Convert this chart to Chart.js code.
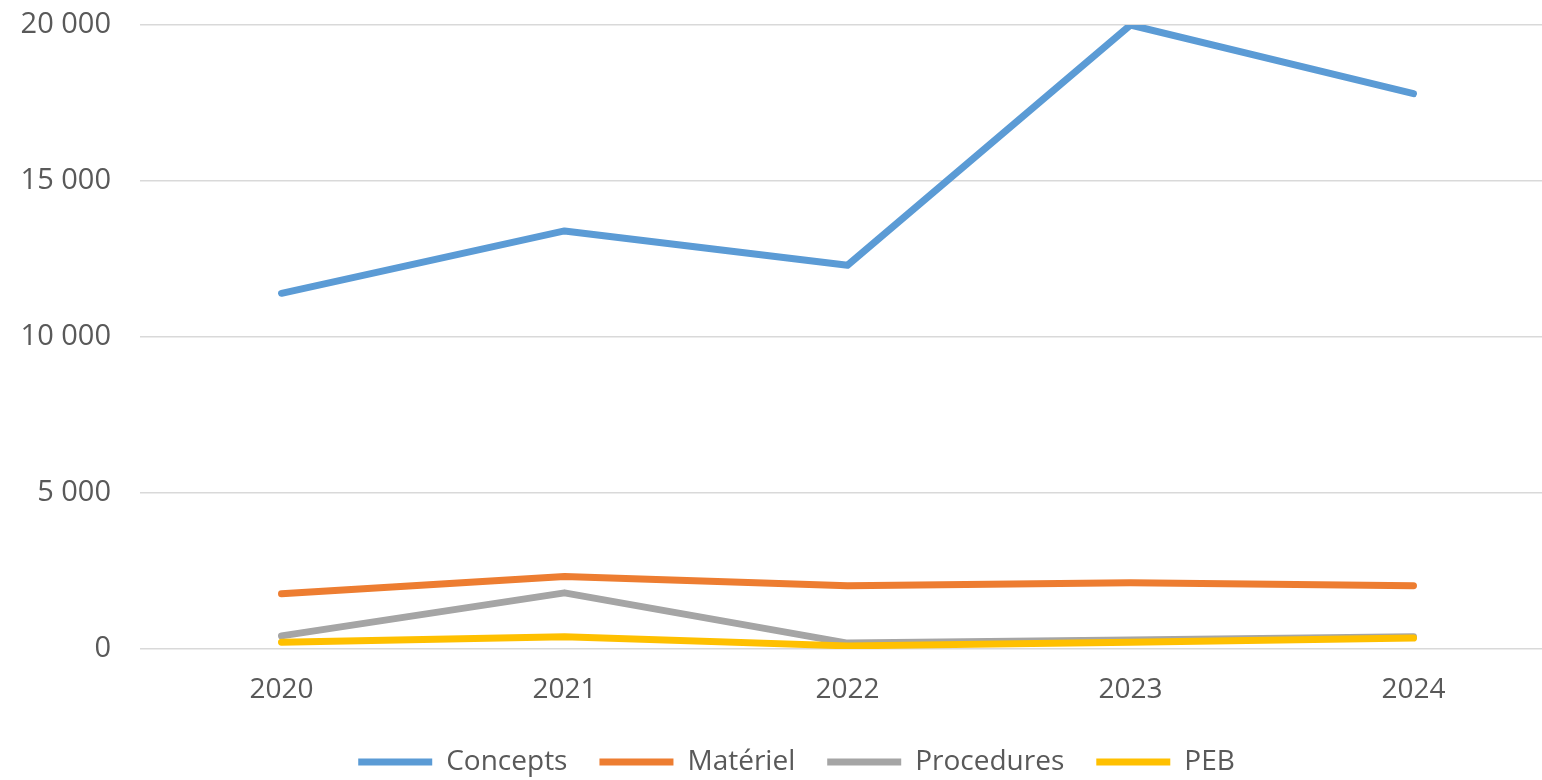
<!DOCTYPE html>
<html>
<head>
<meta charset="utf-8">
<script src="https://cdn.jsdelivr.net/npm/chart.js@4"></script>
<style>
  html, body { margin: 0; padding: 0; background: #fff; overflow: hidden; }
  #wrap { width: 1542px; height: 780px; overflow: hidden; }
</style>
</head>
<body>
<div id="wrap"><canvas id="chart" width="1555" height="780"></canvas></div>
<script>
// ===== DATA =====
const years = ["2020", "2021", "2022", "2023", "2024"];
const concepts = [11400, 13400, 12300, 20000, 17800];
const materiel = [1770, 2320, 2030, 2120, 2030];
const procedures = [420, 1800, 190, 290, 390];
const peb = [220, 390, 100, 220, 350];
const yTicks = [0, 5000, 10000, 15000, 20000];

const grey = "#595959";

// order: the last series is drawn on top, like in excel
function serie(label, data, color, order) {
  return {
    label: label,
    data: data,
    order: order,
    borderColor: color,
    backgroundColor: color,
    borderWidth: 7,
    borderCapStyle: "round",
    borderJoinStyle: "round",
    pointRadius: 0,
    pointHoverRadius: 0,
    tension: 0
  };
}

// format "20 000"
function fmt(v) {
  return String(v).replace(/\B(?=(\d{3})+(?!\d))/g, " ");
}

// legend sits a little lower and more to the right in the original
const legendShift = {
  id: "legendShift",
  afterLayout(chart) {
    const lg = chart.legend;
    lg.top += 6; lg.bottom += 6;
    lg.left += 19; lg.right += 19;
  }
};

new Chart(document.getElementById("chart"), {
  type: "line",
  data: {
    labels: years,
    datasets: [
      serie("Concepts", concepts, "#5B9BD5", 3),
      serie("Matériel", materiel, "#ED7D31", 2),
      serie("Procedures", procedures, "#A5A5A5", 1),
      serie("PEB", peb, "#FFC000", 0)
    ]
  },
  plugins: [legendShift],
  options: {
    responsive: false,
    animation: false,
    devicePixelRatio: 1,
    layout: { padding: { top: 25, left: 0, right: 0, bottom: 0 } },
    plugins: {
      tooltip: { enabled: false },
      legend: {
        position: "bottom",
        labels: {
          color: grey,
          font: { family: "Open Sans", size: 28 },
          boxWidth: 74,
          boxHeight: 7,
          padding: 32,
          generateLabels: chart => chart.data.datasets.map((d, i) => ({
            text: d.label,
            fillStyle: d.borderColor,
            strokeStyle: d.borderColor,
            lineWidth: 0,
            fontColor: grey,
            datasetIndex: i
          }))
        }
      }
    },
    scales: {
      x: {
        offset: true,
        grid: { display: false, drawTicks: false },
        border: { display: false },
        ticks: { color: grey, font: { family: "Open Sans", size: 28 }, padding: 24, maxRotation: 0 },
        afterFit: s => { s.height = 61; }
      },
      y: {
        min: 0,
        max: 20000,
        afterBuildTicks: s => { s.ticks = yTicks.map(v => ({ value: v })); },
        grid: { color: "#D9D9D9", lineWidth: 1.5, drawTicks: false },
        border: { display: false },
        ticks: { color: grey, font: { family: "Open Sans", size: 29 }, padding: 29, callback: v => fmt(v) },
        afterFit: s => { s.width = 140; s.paddingTop = 0; s.paddingBottom = 0; }
      }
    }
  }
});
</script>
</body>
</html>
